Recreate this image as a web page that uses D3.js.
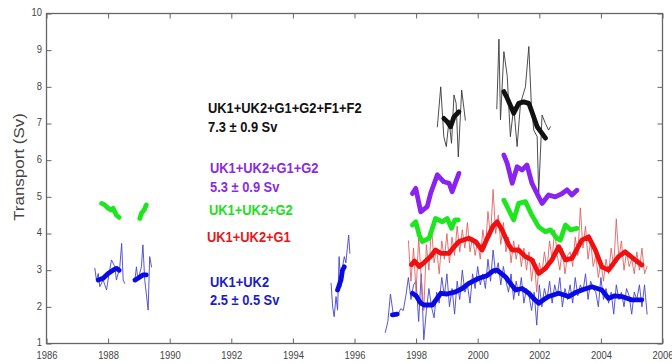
<!DOCTYPE html>
<html>
<head>
<meta charset="utf-8">
<script src="https://cdn.jsdelivr.net/npm/d3@7"></script>
<style>
  html, body { margin: 0; padding: 0; background: #fff; }
  svg { display: block; }
</style>
</head>
<body>
<svg id="chart" width="672" height="363"></svg>
<script>
// Axis ticks
const xTicks = [1986, 1988, 1990, 1992, 1994, 1996, 1998, 2000, 2002, 2004, 2006];
const yTicks = [1, 2, 3, 4, 5, 6, 7, 8, 9, 10];

// UK1+UK2, monthly values (thin) and smoothed (thick)
const blueThinA = [[1987.57,3.05],[1987.62,2.73],[1987.68,2.91],[1987.73,2.55],[1987.84,2.73],[1987.95,2.46],[1988.03,2.9],[1988.11,3.28],[1988.22,3.09],[1988.27,2.73],[1988.38,3.09],[1988.44,3.73],[1988.49,2.73],[1988.54,2.64]];
const blueThinB = [[1988.87,2.73],[1988.92,3.09],[1988.97,2.73],[1989.08,3.09],[1989.13,3.69],[1989.19,2.73],[1989.3,1.91],[1989.35,3.37],[1989.41,3.09]];
const blueThinC = [[1995.24,2.64],[1995.29,2.0],[1995.34,1.73],[1995.4,2.28],[1995.45,1.91],[1995.5,3.37],[1995.56,2.55],[1995.61,3.09],[1995.67,3.37],[1995.72,3.2],[1995.81,3.96],[1995.85,3.46]];
const blueThinStart = 1997.0;
const blueThinMonthly = [
  1.3, 1.6, 2.35, 1.85, 1.75, 1.8, 1.95, 1.9, 2.3, 2.8, 2.2, 2.6,
  2.7, 1.6, 2.9, 1.1, 1.9, 2.5, 2.0, 1.7, 2.4, 2.1, 2.8, 2.3,
  2.9, 2.0, 2.5, 1.8, 2.7, 2.2, 3.0, 2.4, 2.6, 2.1, 2.9, 2.5,
  3.1, 2.6, 2.9, 2.5, 3.3, 2.7, 3.55, 2.9, 3.2, 2.6, 3.1, 2.7,
  2.4, 2.9, 2.2, 2.7, 2.3, 2.8, 2.1, 2.5, 2.3, 1.9, 2.4, 1.5,
  2.6, 2.0, 2.5, 2.2, 2.7, 2.1, 2.6, 2.3, 2.8, 2.0, 2.5, 2.2,
  2.6, 2.1, 2.8, 2.3, 2.6, 2.4, 2.9, 2.2, 2.7, 2.5, 2.4, 2.0,
  2.8, 2.2, 2.5, 2.1, 2.4, 1.8, 2.6, 2.2, 2.4, 2.0, 2.5, 2.3,
  1.8, 2.4, 2.2, 2.6, 2.0, 2.6, 1.8
];
const blueThickA = [[1987.68,2.73],[1987.84,2.78],[1988.0,2.91],[1988.16,3.0],[1988.27,3.05],[1988.36,3.0]];
const blueThickB = [[1988.87,2.73],[1988.97,2.78],[1989.13,2.87],[1989.24,2.87]];
const blueThickC = [[1995.45,2.46],[1995.56,2.73],[1995.61,3.0],[1995.67,3.09]];
const blueThickD = [[1997.23,1.78],[1997.39,1.8]];
const blueThickE = [[1997.88,2.37],[1998.0,2.3],[1998.15,2.1],[1998.26,2.05],[1998.53,2.05],[1998.8,2.37],[1999.0,2.35],[1999.28,2.41],[1999.5,2.5],[1999.71,2.64],[2000.04,2.78],[2000.3,2.85],[2000.52,2.99],[2000.63,3.0],[2000.9,2.82],[2001.1,2.6],[2001.23,2.46],[2001.44,2.5],[2001.66,2.37],[2001.85,2.2],[2001.98,2.1],[2002.15,2.2],[2002.3,2.28],[2002.63,2.37],[2002.95,2.28],[2003.2,2.4],[2003.38,2.46],[2003.71,2.55],[2004.03,2.46],[2004.25,2.23],[2004.45,2.3],[2004.68,2.28],[2005.0,2.19],[2005.33,2.19]];

// UK1+UK2+G1
const redThinStart = 1997.75;
const redThinMonthly = [
  3.8, 2.7, 3.6,
  2.4, 3.9, 2.8, 1.9, 3.7, 3.0, 4.2, 3.2, 3.6, 2.9, 3.8, 3.3,
  4.0, 3.2, 3.9, 3.4, 4.2, 3.5, 4.1, 3.6, 4.3, 3.5, 3.9, 3.4,
  3.8, 3.3, 4.1, 3.6, 4.6, 3.9, 5.2, 4.0, 4.5, 3.7, 4.3, 3.5,
  3.9, 3.2, 3.8, 3.3, 3.7, 3.1, 3.6, 3.0, 3.5, 2.7, 3.3, 2.4,
  3.2, 2.9, 3.5, 3.0, 3.8, 3.3, 4.1, 3.4, 3.0, 3.6, 2.9, 3.4,
  3.5, 3.1, 3.9, 3.4, 4.7, 3.6, 4.2, 3.3, 3.8, 3.1, 3.4, 2.8,
  3.2, 2.7, 3.3, 2.9, 3.6, 3.1, 4.4, 3.3, 3.8, 3.0, 3.5, 3.1,
  3.3, 2.9, 3.5, 3.0, 3.6, 2.9, 3.1
];
const redThick = [[1997.85,3.15],[1997.95,3.25],[1998.1,3.1],[1998.25,3.2],[1998.47,3.37],[1998.63,3.55],[1998.8,3.46],[1999.07,3.46],[1999.25,3.65],[1999.39,3.78],[1999.71,3.87],[1999.93,3.78],[2000.14,3.55],[2000.31,3.87],[2000.5,4.2],[2000.63,4.32],[2000.79,4.1],[2001.0,3.7],[2001.12,3.55],[2001.33,3.55],[2001.55,3.37],[2001.76,3.28],[2001.98,2.91],[2002.2,3.05],[2002.41,3.28],[2002.63,3.64],[2002.85,3.28],[2003.06,3.32],[2003.38,3.82],[2003.6,3.91],[2003.82,3.55],[2004.03,3.09],[2004.25,3.0],[2004.57,3.37],[2004.79,3.5],[2005.11,3.28],[2005.33,3.14]];

// UK1+UK2+G2
const greenThickA = [[1987.79,4.82],[1987.89,4.78],[1988.0,4.69],[1988.11,4.64],[1988.16,4.69],[1988.27,4.5],[1988.36,4.44]];
const greenThickB = [[1989.03,4.41],[1989.08,4.55],[1989.17,4.64],[1989.24,4.78]];
const greenThickC = [[1997.88,4.23],[1997.99,4.32],[1998.1,3.96],[1998.2,3.78],[1998.42,3.87],[1998.63,4.41],[1998.85,4.32],[1999.01,4.41],[1999.15,4.14],[1999.26,4.37],[1999.37,4.37]];
const greenThickD = [[2000.85,4.91],[2001.01,4.64],[2001.17,4.37],[2001.33,4.82],[2001.55,4.87],[2001.76,4.5],[2001.98,4.18],[2002.2,4.05],[2002.36,4.1],[2002.57,3.87],[2002.68,3.82],[2002.85,4.23],[2003.01,4.1],[2003.22,4.14]];

// UK1+UK2+G1+G2
const purpleThickA = [[1997.88,5.09],[1997.99,5.23],[1998.15,4.59],[1998.36,4.73],[1998.47,5.09],[1998.69,5.6],[1998.9,5.41],[1999.07,5.37],[1999.17,5.14],[1999.39,5.64]];
const purpleThickB = [[2000.85,6.14],[2000.96,5.91],[2001.12,5.37],[2001.28,5.82],[2001.44,5.73],[2001.6,5.87],[2001.76,5.37],[2001.98,5.0],[2002.09,4.82],[2002.3,5.05],[2002.52,5.0],[2002.74,5.09],[2002.9,5.19],[2003.06,5.05],[2003.22,5.18]];

// UK1+UK2+G1+G2+F1+F2
const blackThinA = [[1998.69,6.91],[1998.8,8.0],[1998.9,6.64],[1998.98,6.37],[1999.07,7.09],[1999.15,6.46],[1999.23,7.78],[1999.3,7.55],[1999.37,6.09],[1999.48,7.91],[1999.6,7.09]];
const blackThinB = [[2000.62,7.4],[2000.69,9.3],[2000.74,7.1],[2000.85,8.96],[2000.96,8.28],[2001.06,6.64],[2001.17,7.46],[2001.28,6.37],[2001.39,7.55],[2001.55,8.0],[2001.66,9.1],[2001.74,7.55],[2001.82,6.82],[2001.93,6.64],[2001.98,5.1],[2002.09,7.23],[2002.2,7.0],[2002.3,6.82],[2002.36,6.91]];
const blackThickA = [[1998.9,7.14],[1999.01,7.05],[1999.12,6.91],[1999.23,7.18],[1999.39,7.32]];
const blackThickB = [[2000.85,7.87],[2000.96,7.69],[2001.17,7.28],[2001.33,7.55],[2001.49,7.59],[2001.66,7.55],[2001.76,7.32],[2001.93,6.91],[2002.09,6.73],[2002.2,6.6]];

// Labels: [text line 1, text line 2, colour key]
const labelLines = [
  { key: "black",  lines: ["UK1+UK2+G1+G2+F1+F2", "7.3 ± 0.9 Sv"] },
  { key: "purple", lines: ["UK1+UK2+G1+G2", "5.3 ± 0.9 Sv"] },
  { key: "green",  lines: ["UK1+UK2+G2"] },
  { key: "red",    lines: ["UK1+UK2+G1"] },
  { key: "blue",   lines: ["UK1+UK2", "2.5 ± 0.5 Sv"] }
];

const colors = {
  blue:   { thick: "#0a0ae6", thin: "#4646cc", text: "#1c1cc8" },
  red:    { thick: "#f01010", thin: "#e05a5a", text: "#e81818" },
  green:  { thick: "#1ee61e", text: "#22dd22" },
  purple: { thick: "#8a22f0", text: "#8a2be2" },
  black:  { thick: "#111111", thin: "#3a3a3a", text: "#111111" }
};

const svg = d3.select("#chart");
const x = d3.scaleLinear().domain([1986, 2006]).range([46.5, 662.5]);
const y = d3.scaleLinear().domain([1, 10]).range([343.5, 13.5]);

const line = d3.line().x(d => x(d[0])).y(d => y(d[1]));
const monthly = (start, vals) => vals.map((v, i) => [start + i / 12, v]);

const plot = svg.append("g");
function draw(data, color, width, opacity) {
  plot.append("path")
    .datum(data)
    .attr("fill", "none")
    .attr("stroke", color)
    .attr("stroke-width", width)
    .attr("stroke-linejoin", "round")
    .attr("stroke-linecap", "round")
    .attr("opacity", opacity || 1)
    .attr("d", line);
}

// thin monthly lines
[blueThinA, blueThinB, blueThinC, monthly(blueThinStart, blueThinMonthly)].forEach(d => draw(d, colors.blue.thin, 1, 0.9));
draw(monthly(redThinStart, redThinMonthly), colors.red.thin, 1, 0.85);
[blackThinA, blackThinB].forEach(d => draw(d, colors.black.thin, 1, 0.9));

// thick smoothed lines
[blueThickA, blueThickB, blueThickC, blueThickD, blueThickE].forEach(d => draw(d, colors.blue.thick, 4.8));
draw(redThick, colors.red.thick, 4.8);
[greenThickA, greenThickB, greenThickC, greenThickD].forEach(d => draw(d, colors.green.thick, 4.8));
[purpleThickA, purpleThickB].forEach(d => draw(d, colors.purple.thick, 4.8));
[blackThickA, blackThickB].forEach(d => draw(d, colors.black.thick, 4.8));

// axes box with inward ticks
const axisColor = "#666";
const font = "'Liberation Sans', Arial, sans-serif";
const squeeze = 0.82; // narrow glyphs of the figure's typeface
function styleAxis(g) {
  g.select(".domain").remove();
  g.selectAll(".tick line").attr("stroke", axisColor).attr("stroke-width", 1);
  g.selectAll(".tick text").attr("fill", "#444").attr("font-size", 11.5).attr("font-family", font)
    .attr("transform", `scale(${squeeze},1)`);
}
svg.append("g").attr("transform", `translate(0,${y(1)})`)
  .call(d3.axisBottom(x).tickValues(xTicks).tickFormat(d3.format("d")).tickSize(-5).tickPadding(7.5))
  .call(styleAxis);
svg.append("g").attr("transform", `translate(0,${y(10)})`)
  .call(d3.axisTop(x).tickValues(xTicks).tickSize(-5).tickFormat(""))
  .call(styleAxis);
svg.append("g").attr("transform", `translate(${x(1986) - 0.5},-1.5)`)
  .call(d3.axisLeft(y).tickValues(yTicks).tickFormat(d3.format("d")).tickSize(-5).tickPadding(5))
  .call(styleAxis)
  .call(g => g.selectAll(".tick line").attr("transform", "translate(0.5,1.5)"));
svg.append("g").attr("transform", `translate(${x(2006)},0)`)
  .call(d3.axisRight(y).tickValues(yTicks).tickSize(-5).tickFormat(""))
  .call(styleAxis);
svg.append("rect")
  .attr("x", x(1986)).attr("y", y(10))
  .attr("width", x(2006) - x(1986)).attr("height", y(1) - y(10))
  .attr("fill", "none").attr("stroke", axisColor).attr("stroke-width", 1.3);

// y-axis title
svg.append("text")
  .attr("transform", `translate(24,167) rotate(-90) scale(1,${squeeze})`)
  .attr("text-anchor", "middle")
  .attr("font-family", font).attr("font-size", 17).attr("fill", "#444")
  .text("Transport (Sv)");

// series labels
const labelPos = {
  black:  { x: 208, y: [113, 132] },
  purple: { x: 210, y: [173, 192] },
  green:  { x: 209, y: [215] },
  red:    { x: 207, y: [242] },
  blue:   { x: 210, y: [287, 305] }
};
labelLines.forEach(l => {
  const p = labelPos[l.key];
  l.lines.forEach((t, i) => {
    svg.append("text")
      .attr("transform", `translate(${p.x},${p.y[i]}) scale(0.86,1)`)
      .attr("font-family", font).attr("font-size", 15).attr("font-weight", "bold")
      .attr("fill", colors[l.key].text)
      .text(t);
  });
});
</script>
</body>
</html>
